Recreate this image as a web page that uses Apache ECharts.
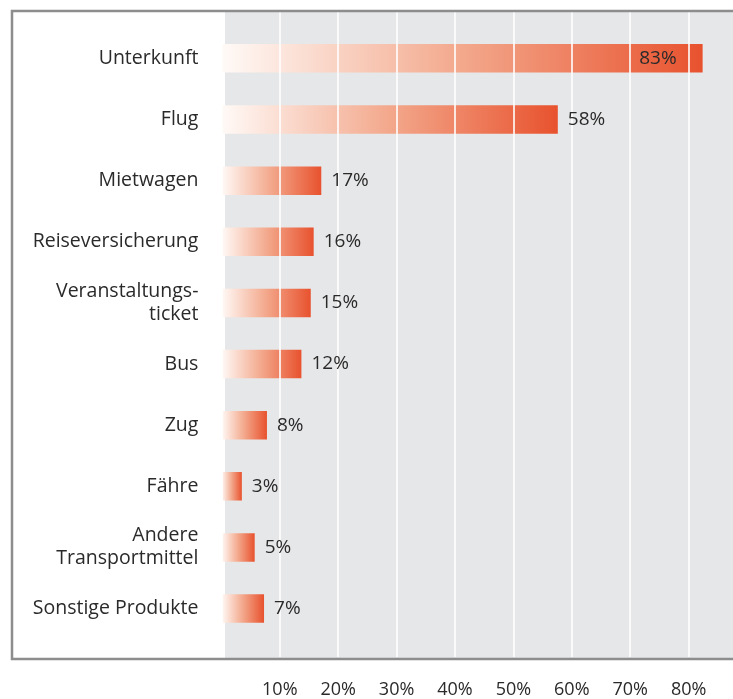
<!DOCTYPE html>
<html>
<head>
<meta charset="utf-8">
<script src="https://cdn.jsdelivr.net/npm/echarts@6/dist/echarts.min.js"></script>
<style>html,body{margin:0;padding:0;background:#fff;overflow:hidden}#c{width:733px;height:699px}</style>
</head>
<body>
<div id="c"></div>
<script>
var categories = ['Unterkunft','Flug','Mietwagen','Reiseversicherung','Veranstaltungs-\nticket','Bus','Zug','Fähre','Andere\nTransportmittel','Sonstige Produkte'];
var barValues = [82.4, 57.6, 17.1, 15.8, 15.3, 13.7, 7.8, 3.5, 5.7, 7.3];
var labelValues = [83, 58, 17, 16, 15, 12, 8, 3, 5, 7];
var xTicks = [10, 20, 30, 40, 50, 60, 70, 80];

var FONT = '"Open Sans", "Noto Sans", sans-serif';
var TXT = '#2b2a2a';
var AX_MIN = 0, AX_MAX = 87.6;

var grad = new echarts.graphic.LinearGradient(0, 0, 1, 0, [
  {offset: 0, color: '#fffaf7'},
  {offset: 0.5, color: '#f3a88c'},
  {offset: 1, color: '#e8522e'}
]);

var labelData = barValues.map(function (v, i) {
  var d = {value: v};
  if (i === 0) {
    d.label = {position: 'insideRight', distance: 26};
  }
  return d;
});

var chart = echarts.init(document.getElementById('c'), null, {renderer: 'canvas'});
chart.setOption({
  animation: false,
  backgroundColor: '#ffffff',
  graphic: [
    {type: 'rect', z: -5, silent: true, shape: {x: 225, y: 12, width: 520, height: 646}, style: {fill: '#e6e7e8'}},
    {type: 'polyline', z: 50, silent: true, shape: {points: [[800, 11], [12, 11], [12, 659], [800, 659]]}, style: {stroke: '#8d8d8d', lineWidth: 2.5, fill: null}}
  ],
  grid: [
    {left: 221.4, right: 0, top: 12, bottom: 699 - 658, containLabel: false},
    {left: 221.4, right: 0, top: 27.8, height: 611.3, containLabel: false}
  ],
  xAxis: [
    {
      gridIndex: 0, type: 'value', min: AX_MIN, max: AX_MAX, interval: 10, z: 6,
      axisLine: {show: false}, axisTick: {show: false},
      splitLine: {show: true, showMaxLine: false, lineStyle: {color: '#ffffff', width: 1.6}},
      axisLabel: {
        show: true, margin: 24, showMaxLabel: false, showMinLabel: false,
        color: TXT, fontFamily: FONT, fontSize: 18,
        formatter: function (v) { return xTicks.indexOf(v) >= 0 ? v + '%' : ''; }
      }
    },
    {
      gridIndex: 1, type: 'value', min: AX_MIN, max: AX_MAX, interval: 10,
      show: false, splitLine: {show: false}
    }
  ],
  yAxis: [
    {gridIndex: 0, type: 'value', show: false, splitLine: {show: false}},
    {
      gridIndex: 1, type: 'category', data: categories, inverse: true,
      axisLine: {show: false}, axisTick: {show: false}, splitLine: {show: false},
      axisLabel: {margin: 23, color: TXT, fontFamily: FONT, fontSize: 19.5, lineHeight: 23, align: 'right'}
    }
  ],
  series: [
    {
      type: 'bar', xAxisIndex: 1, yAxisIndex: 1, z: 2,
      data: barValues, barWidth: 28.5,
      itemStyle: {color: grad},
      label: {show: false}
    },
    {
      type: 'bar', xAxisIndex: 1, yAxisIndex: 1, z: 10, barGap: '-100%',
      data: labelData, barWidth: 28.5, silent: true,
      itemStyle: {color: 'rgba(0,0,0,0)'},
      label: {
        show: true, position: 'right', distance: 10,
        color: TXT, fontFamily: FONT, fontSize: 19,
        formatter: function (p) { return labelValues[p.dataIndex] + '%'; }
      }
    }
  ]
});
</script>
</body>
</html>
